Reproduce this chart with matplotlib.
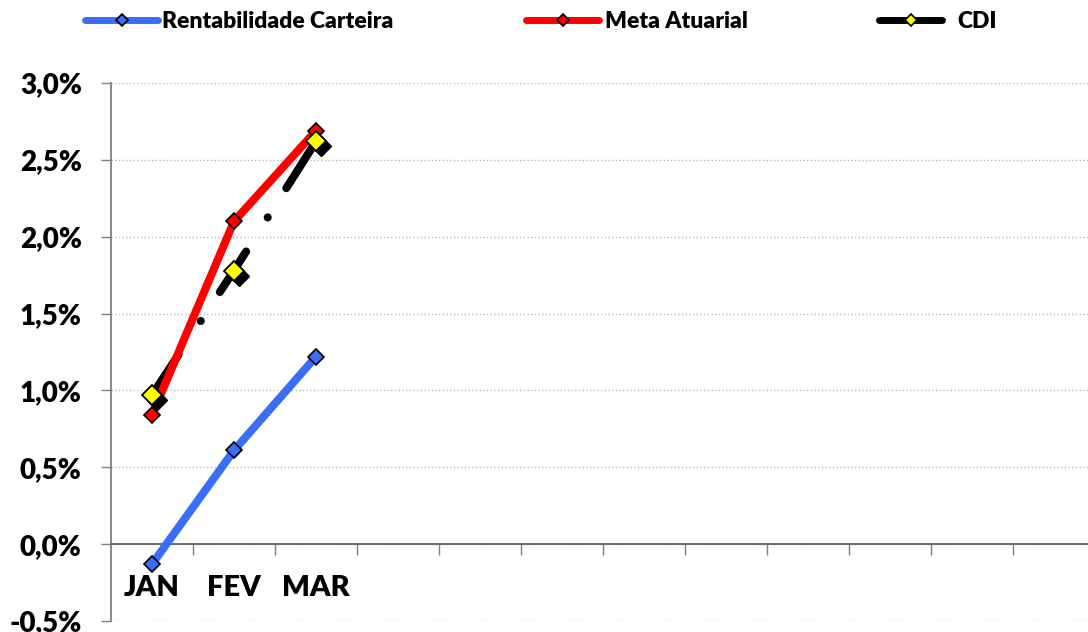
import numpy as np
import matplotlib
matplotlib.use('Agg')
import matplotlib.pyplot as plt
import matplotlib.transforms as mtransforms
from matplotlib.lines import Line2D

# dados (% ao mes, acumulado)
meses = ['JAN', 'FEV', 'MAR']
n_slots = 12
rentabilidade = [-0.13, 0.61, 1.22]
meta_atuarial = [0.84, 2.10, 2.69]
cdi = [0.97, 1.78, 2.62]
y_ticks = [-0.5, 0.0, 0.5, 1.0, 1.5, 2.0, 2.5, 3.0]
series = ['Rentabilidade Carteira', 'Meta Atuarial', 'CDI']

plt.rcParams['font.family'] = ['Lato', 'DejaVu Sans']
plt.rcParams['font.weight'] = 'heavy'

azul = '#3a6ef6'
vermelho = '#ff0000'
amarelo = '#ffff00'
lw = 5.8

fig = plt.figure(figsize=(10.88, 6.32), dpi=100)
ax = fig.add_axes([111 / 1088, 11 / 632, 984 / 1088, 538 / 632])

x = np.arange(len(meses))

ax.plot(x, rentabilidade, color=azul, lw=lw, marker='D', ms=8.5, mfc=azul,
        mec='black', mew=1.2, zorder=3)
ax.plot(x, cdi, color='black', lw=lw, dash_capstyle='round',
        linestyle=(0, (6.0, 5.0, 0.01, 4.3)), zorder=3)
ax.plot(x, meta_atuarial, color=vermelho, lw=lw, marker='D', ms=8.5, mfc=vermelho,
        mec='black', mew=1.2, zorder=4)
sombra = mtransforms.offset_copy(ax.transData, fig=fig, x=5, y=-5, units='dots')
ax.plot(x, cdi, linestyle='none', marker='D', ms=10.5, mfc='black', mec='black',
        transform=sombra, zorder=5)
ax.plot(x, cdi, linestyle='none', marker='D', ms=10.5, mfc=amarelo, mec='black',
        mew=1.3, zorder=6)

ax.set_xlim(-0.5, n_slots - 0.5)
ax.set_ylim(-0.5, 3.0)

ax.set_yticks(y_ticks)
ax.set_yticklabels([f'{v:.1f}%'.replace('.', ',') for v in y_ticks])
ax.tick_params(axis='y', direction='out', length=7, width=1, color='#808080',
               pad=14, labelsize=20)

ax.set_xticks(x)
ax.set_xticklabels(meses)
ax.set_xticks(np.arange(0.5, n_slots - 1, 1.0), minor=True)
ax.tick_params(axis='x', which='major', length=0, pad=22, labelsize=21)
ax.tick_params(axis='x', which='minor', direction='out', length=8, width=1, color='#808080')

ax.grid(axis='y', linestyle=':', color='#b8b8b8', lw=1, zorder=0)
ax.set_axisbelow(True)

ax.spines['top'].set_visible(False)
ax.spines['right'].set_visible(False)
ax.spines['bottom'].set_position(('data', 0))
ax.spines['bottom'].set_color('#606060')
ax.spines['bottom'].set_linewidth(1.3)
ax.spines['left'].set_color('#808080')
ax.spines['left'].set_linewidth(1.3)

# legenda: tres blocos separados, como no Excel
handles = [
    Line2D([], [], color=azul, lw=5, marker='D', ms=6.5, mfc=azul, mec='black', mew=1.2,
           solid_capstyle='round'),
    Line2D([], [], color=vermelho, lw=5, marker='D', ms=6.5, mfc=vermelho, mec='black', mew=1.2,
           solid_capstyle='round'),
    Line2D([], [], color='black', lw=5, marker='D', ms=6.5, mfc=amarelo, mec='black', mew=1.2,
           solid_capstyle='round'),
]
leg_x = [85, 526, 879]
leg_len = [3.2, 3.2, 2.75]
leg_pad = [0.17, 0.26, 0.65]
for h, nome, lx, hl, tp in zip(handles, series, leg_x, leg_len, leg_pad):
    fig.legend([h], [nome], loc='center left', bbox_to_anchor=(lx / 1088, 1 - 22 / 632),
               frameon=False, fontsize=16.5, handlelength=hl, handletextpad=tp,
               borderpad=0, borderaxespad=0)

fig.savefig('out.png', dpi=100, facecolor='white')
